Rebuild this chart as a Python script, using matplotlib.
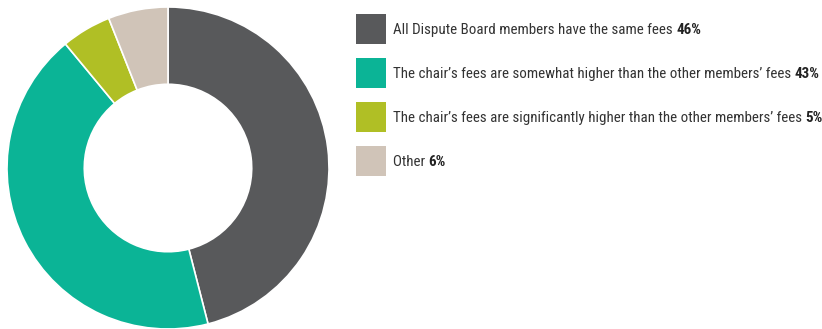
import matplotlib
matplotlib.use("Agg")
import matplotlib.pyplot as plt
from matplotlib.patches import Rectangle

W, H = 822, 329

labels = [
    "All Dispute Board members have the same fees",
    "The chair\u2019s fees are somewhat higher than the other members\u2019 fees",
    "The chair\u2019s fees are significantly higher than the other members\u2019 fees",
    "Other",
]
shares = [46, 43, 5, 6]
colors = ["#58595b", "#0bb496", "#b0bf25", "#d0c4b8"]

FONT = ["Roboto Condensed", "Archivo Narrow", "DejaVu Sans"]

fig = plt.figure(figsize=(W / 100, H / 100), dpi=100)

# donut: centre (168, 168) px, outer radius 161 px
cx, cy, r = 168, 168, 161
ax = fig.add_axes([(cx - r) / W, (H - cy - r) / H, 2 * r / W, 2 * r / H])
ax.pie(shares, colors=colors, startangle=90, counterclock=False, radius=1.0,
       wedgeprops=dict(width=0.48, edgecolor="white", linewidth=1.2))
ax.set_xlim(-1, 1); ax.set_ylim(-1, 1)
ax.set_aspect("equal"); ax.axis("off")

# legend drawn by hand in pixel coordinates: swatch, label, bold share
fig.canvas.draw()
renderer = fig.canvas.get_renderer()
for i, (lab, val, col) in enumerate(zip(labels, shares, colors)):
    yc = 29 + i * 44
    fig.patches.append(Rectangle((356 / W, (H - yc - 15) / H), 30 / W, 30 / H,
                                 transform=fig.transFigure, facecolor=col, edgecolor="none"))
    t = fig.text(393 / W, (H - yc - 1) / H, lab + " ", fontsize=10.8, family=FONT,
                 color="#333333", va="center", ha="left")
    bb = t.get_window_extent(renderer)
    fig.text(bb.x1 / W, (H - yc - 1) / H, f"{val}%", fontsize=10.8, family=FONT,
             fontweight="heavy", color="#222222", va="center", ha="left")

fig.savefig("out.png", dpi=100)
